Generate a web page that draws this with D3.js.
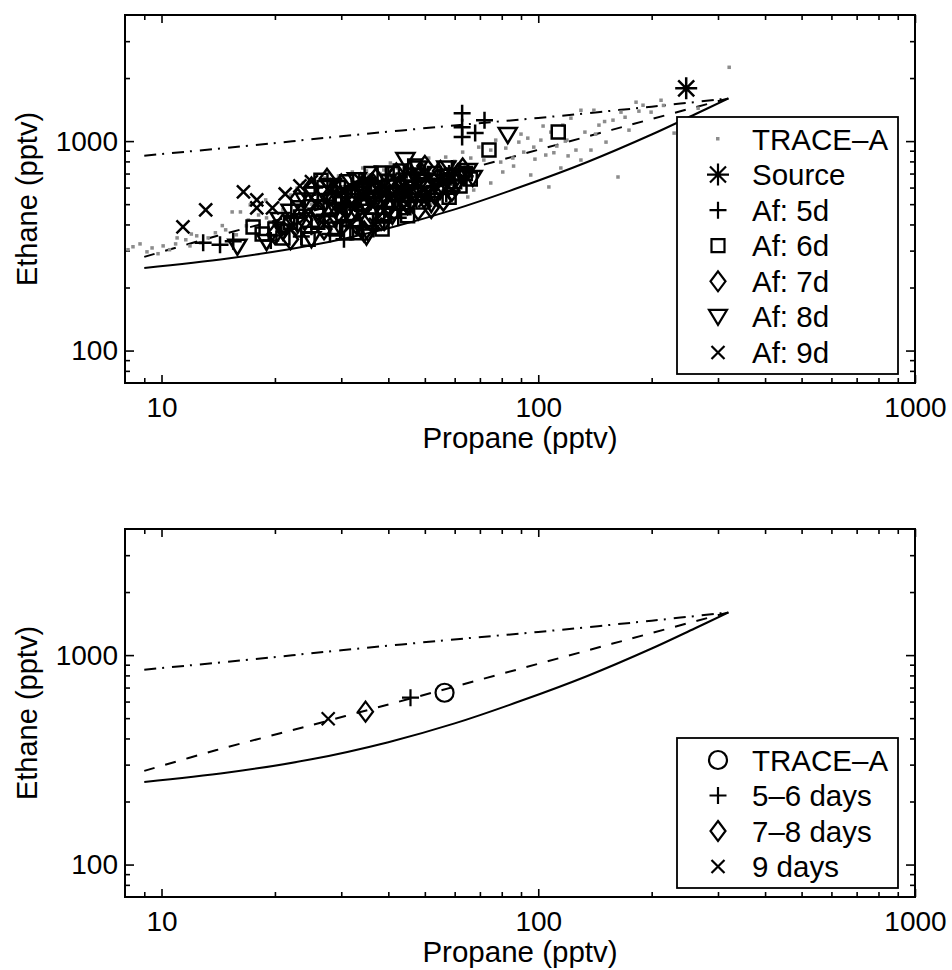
<!DOCTYPE html>
<html>
<head>
<meta charset="utf-8">
<script src="https://cdn.jsdelivr.net/npm/d3@7"></script>
<style>
  body { margin: 0; background: #fff; }
  svg text { font-family: "Liberation Sans", Arial, Helvetica, sans-serif; fill: #000; }
</style>
</head>
<body>
<div id="chart"></div>
<script>
// ---- values: [propane, ethane] in pptv ----
var traceA = [
  [8.15,303],[8.4,313],[8.77,323],[9.15,296],[9.44,309],[9.79,290],[10.1,316],[10.5,303],
  [10.9,323],[11.6,338],[11.9,316],[12.4,353],[12.7,327],[13.3,345],[13.9,365],[14.8,377],
  [15.4,459],[16.2,459],[15.8,357],[16.8,394],[17.2,496],[18.1,444],[18.9,524],[19.4,412],
  [22.0,553],[22.9,597],[23.8,631],[24.8,652],[26.1,611],[27.1,667],[28.1,631],[29.5,681],
  [30.8,638],[32.1,712],[34.2,744],[35.4,689],[37.0,752],[38.9,728],[40.5,786],[42.3,744],
  [46.4,812],[48.7,760],[51.2,830],[54.1,786],[56.8,839],[59.3,769],[63.0,886],[66.2,830],
  [69.5,936],[71.7,812],[74.8,906],[77.1,1011],[79.5,794],[82.0,926],[85.6,830],[88.8,989],
  [91.5,886],[93.8,1033],[97.3,936],[101.6,1011],[104.7,858],[108,1104],[112,947],[116.2,1192],
  [119.1,1011],[122.1,1287],[125.9,906],[129.8,1404],[133,1104],[138,906],[140.5,1404],[144.9,1192],
  [151.3,989],[157.9,1259],[165.8,1375],[174.1,1128],[181.8,1534],[189.7,1484],[199.3,1375],[211.8,1567],
  [229.4,1092],[265.7,1436],[321.2,2251],[162.8,674],[106.7,604],[67.4,584],[65.0,541],[74.8,631],
  [80.5,712],[129.8,812],[114.8,744],[95.5,689],[60.4,617],[55.1,553],[42.6,444],[39.3,398],
  [28.1,365],[20.7,357],[30.8,403],[51.8,496],
  [26,560],[29,590],[32,650],[35,720],[38,700],[41,730],[45,770],[50,790],[55,740],[60,800],
  [25,500],[21,470],[19,430],[17,420],[14.5,395],[12,360],[11,345],[44,690],[33,600],[64,760],
  [86,760],[98,820],[110,880],[120,850],[142,1080],[150,1240],[170,1300],[185,1390],[215,1480],
  [90,1080],[103,1180],[118,1000]
];
var source = [[247,1787]];
var af5 = [
  [12.9,327],[14.3,320],[15.5,333],[19.5,335],[22.5,430],[24,470],[25,390],[26,520],[27,445],
  [28,360],[29,500],[30,560],[31,420],[32,610],[33,470],[34,390],[35,540],[36,640],[37,450],
  [38,580],[39,410],[40,690],[41,520],[42,610],[43,470],[44,700],[45,560],[45.4,512],[47,640],
  [48,600],[50,700],[52,560],[54,660],[56,620],[58,700],[60,650],[62,720],[62.8,1045],
  [62.8,1166],[62.8,1359],[68,1092],[72,1259],
  [23.5,350],[25.5,600],[27.5,520],[30.5,340],[33.5,640],[36.5,380],[39.5,600],[42.5,430],
  [46,740],[49,540],[53,610],[57,560],[59,740],[64,680],[31,500],[37,540],[44,600]
];
var af6 = [
  [17.5,389],[18.5,360],[21,345],[23,480],[25,560],[26,410],[27,600],[28,470],[29,380],
  [30,530],[31,365],[31,640],[32,450],[33,365],[33,580],[34,500],[35,420],[36,700],[37,600],
  [38,520],[39,450],[40,640],[42,560],[43,720],[44,480],[46,660],[48,560],[49.4,512],[50,620],
  [53,700],[55,600],[57,680],[60,640],[64,700],[66,660],[74,906],[113,1104],
  [20,380],[22,410],[24.5,340],[26.5,650],[29.5,600],[32.5,520],[35.5,620],[38.5,380],
  [41,700],[45,440],[47,760],[51,560],[58,540],[62,610],[28,420],[34,560],[40,520],[47,600]
];
var af7 = [
  [20,360],[21,400],[23,530],[24,420],[25,600],[26,470],[27,380],[28,550],[29,440],[30,620],
  [31,480],[33,400],[34,600],[35,500],[36,450],[37,660],[38,540],[40,480],[41,600],[42,700],
  [44,540],[45,640],[47,580],[48,470],[49,700],[51,620],[52,480],[53,560],[55,720],[56,520],
  [58,620],[61,690],
  [22,340],[24.5,500],[27.5,660],[30,440],[32,560],[34.5,370],[36.5,620],[39,420],[43,620],
  [46,520],[50,760],[54,660],[59,580],[63,740],[29,520],[33,470],[39,560],[45,500]
];
var af8 = [
  [15.9,313],[19,330],[20.6,420],[22,460],[24,520],[26,440],[27,560],[29,470],[30,380],
  [32,540],[34,460],[35.4,364],[36,580],[38,480],[40,560],[42,520],[44.4,812],[45,600],
  [47,680],[50,560],[53,640],[57,740],[60,600],[63,680],[67,667],[83,1068],
  [21,370],[23,400],[25,340],[28,610],[31,460],[33,650],[35,350],[37,520],[39,700],[41,440],
  [43,560],[48,740],[52,500],[55,580],[65,720],[30,500],[36,520],[42,600],[49,640]
];
var af9 = [
  [11.4,389],[13.1,469],[16.5,572],[17.9,480],[17.9,524],[19.7,480],[21.3,559],[23.3,611],
  [24,430],[26,500],[28,580],[30,470],[32,400],[33.5,659],[34,560],[36,500],[38,620],[40,450],
  [43,540],[46,600],[50,520],[55,650],
  [22,380],[25,640],[27,400],[29,620],[31,520],[35,660],[37,400],[41,560],[44,480],[48,680],
  [52,620],[58,660],[33,520],[39,500],[45,560]
];

// model curves, same in both panels
var curveSolid = [[9,248],[15,275],[25,318],[40,384],[60,472],[90,605],[135,795],[200,1075],[260,1340],[320,1600]];
var curveDashed = [[9,280],[14,352],[25,463],[45,615],[60,707],[90,863],[135,1052],[200,1275],[320,1600]];
var curveDashDot = [[9,852],[17.5,955],[30,1055],[67,1210],[100,1290],[200,1460],[320,1600]];

// bottom panel: mean values
var meanTraceA = [[56.4,661]];
var mean56 = [[45.8,626]];
var mean78 = [[34.8,537]];
var mean9 = [[27.7,497]];

// ticks
var xMajor = [10, 100, 1000];
var xMinor = [9, 20, 30, 40, 50, 60, 70, 80, 90, 200, 300, 400, 500, 600, 700, 800, 900];
var yMajor = [100, 1000];
var yMinor = [80, 90, 200, 300, 400, 500, 600, 700, 800, 900, 2000, 3000];

var legendTop = ["TRACE\u2013A", "Source", "Af: 5d", "Af: 6d", "Af: 7d", "Af: 8d", "Af: 9d"];
var legendBottom = ["TRACE\u2013A", "5\u20136 days", "7\u20138 days", "9 days"];

// ---- setup ----
var svg = d3.select("#chart").append("svg").attr("width", 952).attr("height", 970);

var left = 125, right = 915;
var x = d3.scaleLog().domain([8, 1000]).range([left, right]);

// marker shapes
var shapes = {
  plus: "M-8.5,0H8.5M0,-8.5V8.5",
  square: "M-6.5,-6.5h13v13h-13z",
  diamond: "M0,-10L7.5,0L0,10L-7.5,0Z",
  tri: "M-9,-7L9,-7L0,8Z",
  cross: "M-6.5,-6.5L6.5,6.5M-6.5,6.5L6.5,-6.5",
  star: "M0,-11V11M-11,0H11M-8,-8L8,8M-8,8L8,-8",
  circle: "M9,0A9,9 0 1,1 -9,0A9,9 0 1,1 9,0Z"
};

function drawMarkers(g, data, shape, xs, ys, sw) {
  g.selectAll(null)
    .data(data)
    .enter()
    .append("path")
    .attr("d", shapes[shape])
    .attr("transform", function (d) { return "translate(" + xs(d[0]) + "," + ys(d[1]) + ")"; })
    .attr("fill", "none")
    .attr("stroke", "#000")
    .attr("stroke-width", sw || 2.2);
}

function drawPanel(top) {
  var bottom = top + 368;
  var y = d3.scaleLog().domain([70, 4000]).range([bottom, top]);
  var g = svg.append("g");

  // ticks on all four sides
  var axes = [
    [d3.axisBottom(x).tickValues(xMajor).tickSize(-8).tickPadding(14).tickFormat(d3.format("d")), "translate(0," + bottom + ")"],
    [d3.axisBottom(x).tickValues(xMinor).tickSize(-5).tickFormat(""), "translate(0," + bottom + ")"],
    [d3.axisTop(x).tickValues(xMajor).tickSize(-8).tickFormat(""), "translate(0," + top + ")"],
    [d3.axisTop(x).tickValues(xMinor).tickSize(-5).tickFormat(""), "translate(0," + top + ")"],
    [d3.axisLeft(y).tickValues(yMajor).tickSize(-9).tickPadding(7).tickFormat(d3.format("d")), "translate(" + left + ",0)"],
    [d3.axisLeft(y).tickValues(yMinor).tickSize(-5).tickFormat(""), "translate(" + left + ",0)"],
    [d3.axisRight(y).tickValues(yMajor).tickSize(-9).tickFormat(""), "translate(" + right + ",0)"],
    [d3.axisRight(y).tickValues(yMinor).tickSize(-5).tickFormat(""), "translate(" + right + ",0)"]
  ];
  axes.forEach(function (a) {
    var ag = g.append("g").attr("transform", a[1]).call(a[0]);
    ag.select(".domain").remove();
    ag.selectAll("line").attr("stroke", "#000").attr("stroke-width", 1.6);
    ag.selectAll("text").attr("font-size", 28).attr("font-family", "Liberation Sans, Arial, sans-serif");
  });

  // frame
  g.append("rect")
    .attr("x", left).attr("y", top)
    .attr("width", right - left).attr("height", bottom - top)
    .attr("fill", "none").attr("stroke", "#000").attr("stroke-width", 2);

  // axis titles
  g.append("text")
    .attr("x", (left + right) / 2).attr("y", bottom + 65)
    .attr("text-anchor", "middle").attr("font-size", 29.5)
    .text("Propane (pptv)");
  g.append("text")
    .attr("transform", "translate(37," + (top + bottom) / 2 + ") rotate(-90)")
    .attr("text-anchor", "middle").attr("font-size", 29)
    .text("Ethane (pptv)");

  // model curves
  var line = d3.line()
    .x(function (d) { return x(d[0]); })
    .y(function (d) { return y(d[1]); })
    .curve(d3.curveCatmullRom.alpha(0.5));
  g.append("path").attr("d", line(curveSolid)).attr("fill", "none").attr("stroke", "#000").attr("stroke-width", 2);
  g.append("path").attr("d", line(curveDashed)).attr("fill", "none").attr("stroke", "#000").attr("stroke-width", 2)
    .attr("stroke-dasharray", "11,11");
  g.append("path").attr("d", line(curveDashDot)).attr("fill", "none").attr("stroke", "#000").attr("stroke-width", 2)
    .attr("stroke-dasharray", "12,6,2,8");

  return { g: g, y: y, top: top, bottom: bottom };
}

function drawLegend(g, yTop, yBot, labels, symbols) {
  g.append("rect")
    .attr("x", 677).attr("y", yTop)
    .attr("width", 221).attr("height", yBot - yTop)
    .attr("fill", "#fff").attr("stroke", "#000").attr("stroke-width", 1.8);
  var step = (yBot - yTop - 8) / labels.length;
  var rows = g.selectAll(null)
    .data(labels)
    .enter()
    .append("g")
    .attr("transform", function (d, i) { return "translate(0," + (yTop + 22 + i * step) + ")"; });
  rows.append("text")
    .attr("x", 752).attr("y", 10.5)
    .attr("font-size", 29.5)
    .text(function (d) { return d; });
  rows.each(function (d, i) {
    var s = symbols[i];
    if (s === "dot") {
      d3.select(this).append("rect")
        .attr("x", 716).attr("y", -2).attr("width", 3.5).attr("height", 3.5).attr("fill", "#8c8c8c");
    } else {
      d3.select(this).append("path")
        .attr("d", shapes[s])
        .attr("transform", "translate(718,0)")
        .attr("fill", "none").attr("stroke", "#000").attr("stroke-width", 2.2);
    }
  });
}

// ---- top panel ----
var p1 = drawPanel(15);
p1.g.selectAll(null)
  .data(traceA)
  .enter()
  .append("rect")
  .attr("x", function (d) { return x(d[0]) - 1.75; })
  .attr("y", function (d) { return p1.y(d[1]) - 1.75; })
  .attr("width", 3.5).attr("height", 3.5)
  .attr("fill", "#8c8c8c");
drawMarkers(p1.g, af5, "plus", x, p1.y, 2.5);
drawMarkers(p1.g, af6, "square", x, p1.y, 2.5);
drawMarkers(p1.g, af7, "diamond", x, p1.y, 2.5);
drawMarkers(p1.g, af8, "tri", x, p1.y, 2.5);
drawMarkers(p1.g, af9, "cross", x, p1.y, 2.5);
drawMarkers(p1.g, source, "star", x, p1.y, 2.5);
drawLegend(p1.g, 117, 374, legendTop, ["dot", "star", "plus", "square", "diamond", "tri", "cross"]);

// ---- bottom panel ----
var p2 = drawPanel(529);
drawMarkers(p2.g, meanTraceA, "circle", x, p2.y);
drawMarkers(p2.g, mean56, "plus", x, p2.y);
drawMarkers(p2.g, mean78, "diamond", x, p2.y);
drawMarkers(p2.g, mean9, "cross", x, p2.y);
drawLegend(p2.g, 738, 888, legendBottom, ["circle", "plus", "diamond", "cross"]);
</script>
</body>
</html>
